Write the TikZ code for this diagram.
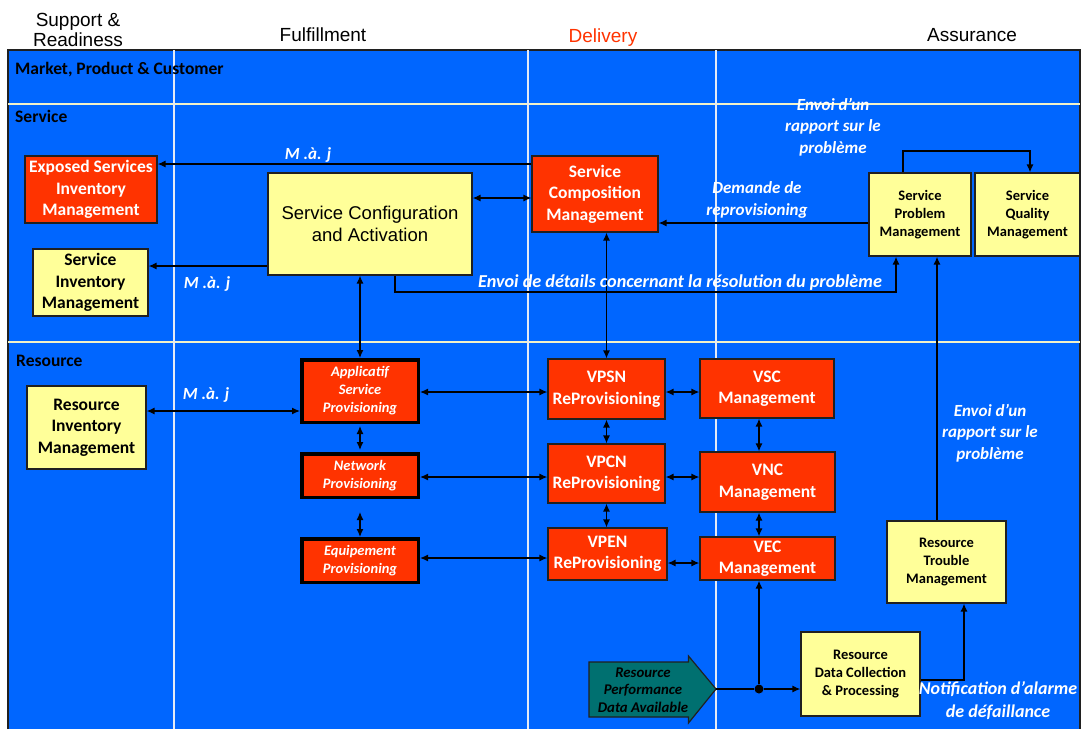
\documentclass[tikz,border=0pt]{standalone}
\usepackage{fontspec}
\setmainfont{Carlito}
\newfontfamily\arialf{Liberation Sans}
\usetikzlibrary{arrows.meta,calc}
\definecolor{bgblue}{HTML}{0066FF}
\definecolor{tmred}{HTML}{FF3300}
\definecolor{tmyel}{HTML}{FFFF99}
\definecolor{tmteal}{RGB}{0,112,112}
\definecolor{gridc}{HTML}{E4EAF6}
\definecolor{gridh}{HTML}{F2F2C8}
\definecolor{edgec}{HTML}{202020}
\tikzset{
 box/.style={draw=edgec, line width=1.2pt, align=center, inner sep=0pt, font=\bfseries\fontsize{17.5}{21.5}\selectfont},
 redbox/.style={box, fill=tmred, text=white},
 yelbox/.style={box, fill=tmyel, text=black},
 smallbox/.style={yelbox, font=\bfseries\fontsize{14.5}{18}\selectfont},
 provbox/.style={box, fill=tmred, text=white, line width=3.5pt, draw=black, font=\bfseries\itshape\fontsize{14.5}{18}\selectfont},
 lbl/.style={text=white, align=center, font=\bfseries\itshape\fontsize{17}{21.5}\selectfont, inner sep=0pt},
 hdr/.style={font=\arialf\fontsize{19}{20}\selectfont, align=center, inner sep=0pt},
 lane/.style={font=\bfseries\fontsize{17.5}{19}\selectfont, anchor=west, inner sep=0pt},
 arr/.style={draw=black, line width=1.3pt, -{Latex[length=8pt,width=7pt]}},
 darr/.style={draw=black, line width=1.3pt, {Latex[length=8pt,width=7pt]}-{Latex[length=8pt,width=7pt]}},
 plain/.style={draw=black, line width=1.3pt},
 gridl/.style={draw=gridc, line width=1.3pt},
 gridhl/.style={draw=gridh, line width=1.3pt},
}
\begin{document}
\begin{tikzpicture}[x=1pt,y=-1pt]
\useasboundingbox (0,0) rectangle (1082,729);
% background
\fill[bgblue] (8,50) rectangle (1080,729);
\draw[edgec, line width=1.6pt] (8,729) -- (8,50) -- (1080,50) -- (1080,729);
\draw[gridhl] (8,104) -- (1080,104);
\draw[gridhl] (8,342) -- (1080,342);
\draw[gridl] (174,50) -- (174,729);
\draw[gridl] (528,50) -- (528,729);
\draw[gridl] (716,50) -- (716,729);

% headers
\node[hdr] (hSR) at (78,30) {Support \&\\Readiness};
\node[hdr] (hFul) at (323,35) {Fulfillment};
\node[hdr, text=tmred] (hDel) at (603,38) {Delivery};
\node[hdr] (hAss) at (972,35) {Assurance};
\node[lane] (lMkt) at (15,70) {Market, Product \& Customer};
\node[lane] (lSvc) at (15,116) {Service};
\node[lane] (lRes) at (16,361) {Resource};

% boxes
\node[redbox, minimum width=132, minimum height=67] (exp) at (91,189.5) {Exposed Services\\Inventory\\Management};
\node[yelbox, minimum width=204, minimum height=102, font=\arialf\fontsize{18.5}{22}\selectfont] (sca) at (370,224) {Service Configuration\\and Activation};
\node[yelbox, minimum width=115, minimum height=67] (sim) at (90.5,282.5) {Service\\Inventory\\Management};
\node[redbox, minimum width=126, minimum height=76] (scm) at (595,194) {Service\\Composition\\Management};
\node[smallbox, minimum width=102, minimum height=83] (spm) at (920,214.5) {Service\\Problem\\Management};
\node[smallbox, minimum width=105, minimum height=83] (sqm) at (1027.5,214.5) {Service\\Quality\\Management};
\node[yelbox, minimum width=119, minimum height=83] (rim) at (86.5,427.5) {Resource\\Inventory\\Management};
\node[provbox, minimum width=116.5, minimum height=62.5] (app) at (360,391) {Applicatif\\Service\\Provisioning};
\node[provbox, minimum width=116.5, minimum height=43.5] (net) at (360,475.5) {Network\\Provisioning};
\node[provbox, minimum width=116.5, minimum height=43.5] (equ) at (360,560.5) {Equipement\\Provisioning};
\node[redbox, minimum width=117, minimum height=60] (vpsn) at (606.5,389) {VPSN\\ReProvisioning};
\node[redbox, minimum width=134, minimum height=59] (vsc) at (767,388.5) {VSC\\Management};
\node[redbox, minimum width=117, minimum height=59] (vpcn) at (606.5,473.5) {VPCN\\ReProvisioning};
\node[redbox, minimum width=135, minimum height=60] (vnc) at (767.5,482) {VNC\\Management};
\node[redbox, minimum width=119, minimum height=52] (vpen) at (607.5,554) {VPEN\\ReProvisioning};
\node[redbox, minimum width=135, minimum height=43] (vec) at (767.5,558.5) {VEC\\Management};
\node[smallbox, minimum width=119, minimum height=82] (rtm) at (946.5,562) {Resource\\Trouble\\Management};
\node[smallbox, minimum width=119, minimum height=84] (rdc) at (860.5,674) {Resource\\Data Collection\\\&~Processing};

% big arrow shape
\draw[fill=tmteal, draw=edgec, line width=1.2pt] (589,662) -- (688.5,662) -- (688.5,656) -- (716,689) -- (688.5,723) -- (688.5,717) -- (589,717) -- cycle;
\coordinate (rpTip) at (716,689);
\node[align=center, inner sep=0pt, font=\bfseries\itshape\fontsize{14.8}{17.5}\selectfont] (rp) at (643,690) {Resource\\Performance\\Data Available};
\node[circle, fill=black, inner sep=0pt, minimum size=9] (dot) at (759,689) {};

% connectors
\draw[arr] (scm.west |- 0,164) -- (exp.east |- 0,164);
\draw[arr] (sca.west |- 0,266) -- (sim.east |- 0,266);
\draw[darr] (sca.east |- 0,198) -- (scm.west |- 0,198);
\coordinate (b1) at (395,292);
\coordinate (b2) at (896,292);
\draw[arr] (sca.south -| b1) -- (b1) -- (b2) -- (spm.south -| b2);
\draw[darr] (app.north) -- (app.north |- sca.south);
\draw[arr] (spm.west |- 0,223) -- (scm.east |- 0,223);
\coordinate (c1) at (903,151);
\coordinate (c2) at (1030,151);
\draw[arr] (spm.north -| c1) -- (c1) -- (c2) -- (sqm.north -| c2);
\draw[darr] (vpsn.north) -- (vpsn.north |- scm.south);
\coordinate (d1) at (937,300);
\draw[arr] (rtm.north -| d1) -- (spm.south -| d1);
\draw[darr] (rim.east |- 0,411) -- (app.west |- 0,411);
\draw[darr] (app.east |- 0,392) -- (vpsn.west |- 0,392);
\draw[darr] (net.east |- 0,477) -- (vpcn.west |- 0,477);
\draw[darr] (equ.east |- 0,558) -- (vpen.west |- 0,558);
\draw[darr, shorten <=2pt, shorten >=2pt] (app.south) -- (net.north);
\draw[darr, shorten <=13pt] (net.south) -- (equ.north);
\draw[darr] (vpsn.east |- 0,392) -- (vsc.west |- 0,392);
\draw[darr] (vpcn.east |- 0,477) -- (vnc.west |- 0,477);
\draw[darr] (vpen.east |- 0,563) -- (vec.west |- 0,563);
\draw[darr] (vpsn.south) -- (vpcn.north);
\draw[darr] (vpcn.south) -- (vpcn.south |- vpen.north);
\coordinate (e1) at (759,500);
\draw[darr] (vsc.south -| e1) -- (vnc.north -| e1);
\draw[darr] (vnc.south -| e1) -- (vec.north -| e1);
\draw[plain] (rpTip) -- (dot);
\draw[arr] (dot) -- (rdc.west |- dot);
\draw[arr] (dot) -- (vec.south -| dot);
\coordinate (f1) at (964,680);
\draw[arr] (rdc.east |- f1) -- (f1) -- (rtm.south -| f1);

% labels
\node[lbl] (m1) at (308,155) {M .à. j};
\node[lbl] (m2) at (207,284) {M .à. j};
\node[lbl] (m3) at (206,395) {M .à. j};
\node[lbl, font=\bfseries\itshape\fontsize{18.2}{21.5}\selectfont] (lDet) at (680,283) {Envoi de détails concernant la résolution du problème};
\node[lbl] (lDem) at (757,200) {Demande de\\reprovisioning};
\node[lbl] (lEnv1) at (833,127) {Envoi d’un\\rapport sur le\\problème};
\node[lbl] (lEnv2) at (990,433) {Envoi d’un\\rapport sur le\\problème};
\node[lbl, font=\bfseries\itshape\fontsize{18}{23}\selectfont] (lNot) at (998,701) {Notification d’alarme\\de défaillance};
\end{tikzpicture}
\end{document}
